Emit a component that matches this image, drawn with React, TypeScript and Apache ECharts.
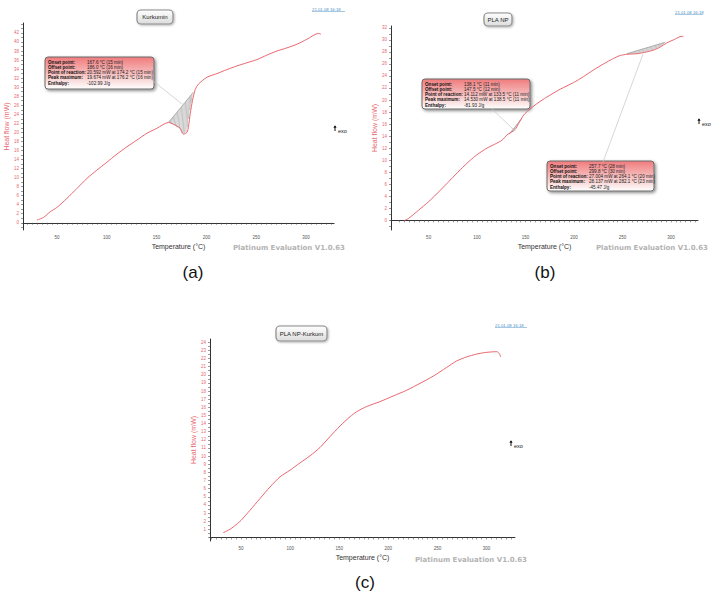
import React, { useEffect, useRef } from "react";
import * as echarts from "echarts";

// ---- data ----
const tempA = [29.9, 36.6, 43.3, 50, 60, 70.1, 80.1, 90.1, 99.5, 110.2, 120.2, 130.3, 140.3, 150.3, 162, 167, 173.7, 177, 180.5, 182.1, 183.8, 186.1, 188.8, 192.1, 200.5, 210.5, 220.6, 230.6, 240.6, 250.7, 260.7, 270.7, 280.8, 290.8, 300.8, 312.5, 314.9];
const heatA = [0.59, 1.18, 2.43, 3.39, 5.38, 7.6, 9.8, 11.65, 13.27, 15.19, 16.8, 18.3, 19.8, 20.9, 22.2, 21.8, 20.9, 19.6, 20.0, 21.4, 24.2, 27.1, 29.5, 30.7, 32.2, 33.0, 33.9, 34.7, 35.4, 36.1, 37.1, 38.0, 38.7, 39.5, 40.6, 41.9, 41.7];

const tempB = [25.3, 29.4, 39.7, 50, 62, 72.3, 82.6, 93, 99.8, 110.1, 118.7, 125.6, 130.8, 135.9, 139.3, 142.8, 148, 153.1, 161.7, 172, 185.7, 199.5, 209.8, 220.1, 230.4, 240.7, 247.6, 254.5, 264.8, 275.1, 282, 288.8, 295.7, 302.6, 311.2, 312.9];
const heatB = [0, 0.33, 1.7, 3.1, 5.0, 6.7, 8.4, 10.0, 10.9, 12.0, 12.7, 13.3, 14.2, 14.7, 15.1, 16.1, 17.5, 18.3, 19.4, 20.5, 21.8, 22.9, 23.9, 25.0, 26.0, 26.9, 27.4, 27.6, 27.7, 28.0, 28.3, 28.8, 29.5, 30.0, 30.6, 30.5];

const tempC = [32, 37.1, 42.2, 50, 59.2, 69.3, 79.5, 89.7, 99.9, 110.1, 120.3, 130.4, 140.6, 150.8, 161, 167.8, 178, 191.5, 205.1, 218.7, 232.3, 245.9, 259.4, 269.6, 279.8, 290, 300.2, 310.4, 313.1, 314.4];
const heatC = [0.6, 0.88, 1.29, 2.1, 3.35, 4.78, 6.2, 7.45, 8.27, 9.17, 10.04, 11.06, 12.4, 13.7, 14.84, 15.46, 16.1, 16.7, 17.4, 18.1, 18.95, 19.85, 20.9, 21.7, 22.2, 22.55, 22.76, 22.84, 22.6, 22.2];

// integration baselines: [onsetT, onsetH, offsetT, offsetH]
const peakA = [162, 22.2, 187, 28.9];
const peakB1 = [133, 14.3, 146, 16.9];
const peakB2 = [254.5, 27.7, 294, 29.6];

const xTickLabels = [50, 100, 150, 200, 250, 300];
const yLabelsA = [0, 2, 4, 6, 8, 10, 12, 14, 16, 18, 20, 22, 24, 26, 28, 30, 32, 34, 36, 38, 40, 42];
const yLabelsB = [0, 2, 4, 6, 8, 10, 12, 14, 16, 18, 20, 22, 24, 26, 28, 30, 32];
const yLabelsC = [1, 2, 3, 4, 5, 6, 7, 8, 9, 10, 11, 12, 13, 14, 15, 16, 17, 18, 19, 20, 21, 22, 23, 24];

const calloutLabels = ["Onset point:", "Offset point:", "Point of reaction:", "Peak maximum:", "Enthalpy:"];
const calloutA = ["167.6 °C (15 min)", "186.0 °C (16 min)", "20.592 mW at 174.2 °C (15 min)", "19.674 mW at 176.2 °C (16 min)", "-102.99 J/g"];
const calloutB1 = ["138.1 °C (11 min)", "147.5 °C (12 min)", "14.112 mW at 133.5 °C (11 min)", "14.530 mW at 138.5 °C (11 min)", "-81.93 J/g"];
const calloutB2 = ["257.7 °C (28 min)", "299.8 °C (30 min)", "27.004 mW at 264.1 °C (20 min)", "28.137 mW at 282.1 °C (23 min)", "-45.47 J/g"];

const RED = "#e8666e";
const FONT = "'Liberation Sans', Arial, sans-serif";
const VFONT = "'DejaVu Sans', Verdana, sans-serif";

function range(a: number, b: number, s: number) {
  const r: number[] = [];
  for (let v = a; v <= b + 1e-9; v += s) r.push(Math.round(v * 100) / 100);
  return r;
}

function interp(xs: number[], ys: number[], x: number) {
  for (let i = 0; i < xs.length - 1; i++) {
    if (x >= xs[i] && x <= xs[i + 1]) {
      const t = (x - xs[i]) / (xs[i + 1] - xs[i]);
      return ys[i] + t * (ys[i + 1] - ys[i]);
    }
  }
  return ys[ys.length - 1];
}

function axes(idx: number, xr: number[], yr: number[], yLabels: number[], yStep: number) {
  const x = {
    type: "value",
    gridIndex: idx,
    min: xr[0],
    max: xr[1],
    name: "Temperature (°C)",
    nameLocation: "middle",
    nameGap: 13,
    nameTextStyle: { fontSize: 7, color: "#333", fontFamily: FONT },
    axisLine: { show: true, lineStyle: { color: "#333", width: 1 } },
    axisTick: { show: true, customValues: range(20, 325, 5), length: 2, lineStyle: { color: "#555", width: 0.6 } },
    axisLabel: { customValues: xTickLabels, fontSize: 4.5, color: "#555", margin: 5, fontFamily: FONT },
    splitLine: { show: false },
  };
  const y = {
    type: "value",
    gridIndex: idx,
    min: yr[0],
    max: yr[1],
    name: "Heat flow (mW)",
    nameLocation: "middle",
    nameGap: 13,
    nameTextStyle: { fontSize: 7, color: RED, fontFamily: FONT },
    axisLine: { show: true, lineStyle: { color: "#333", width: 1 } },
    axisTick: { show: true, customValues: range(Math.ceil(yr[0] / yStep) * yStep, yr[1], yStep), length: 2, lineStyle: { color: "#555", width: 0.6 } },
    axisLabel: { customValues: yLabels, fontSize: 4.5, color: RED, margin: 4, fontFamily: FONT },
    splitLine: { show: false },
  };
  return { x, y };
}

function curve(idx: number, xs: number[], ys: number[]) {
  return {
    type: "line",
    xAxisIndex: idx,
    yAxisIndex: idx,
    data: xs.map((t, i) => [t, ys[i]]),
    showSymbol: false,
    smooth: 0.25,
    lineStyle: { color: RED, width: 1 },
    z: 3,
  };
}

function hatch(idx: number, peak: number[], xs: number[], ys: number[]) {
  return {
    type: "custom",
    xAxisIndex: idx,
    yAxisIndex: idx,
    data: [peak],
    z: 2,
    renderItem: (params: any, api: any) => {
      const t0 = api.value(0), h0 = api.value(1), t1 = api.value(2), h1 = api.value(3);
      const children: any[] = [];
      const p0 = api.coord([t0, h0]);
      const p1 = api.coord([t1, h1]);
      children.push({ type: "line", shape: { x1: p0[0], y1: p0[1], x2: p1[0], y2: p1[1] }, style: { stroke: "#888", lineWidth: 0.6 } });
      const n = Math.max(4, Math.round((p1[0] - p0[0]) / 1.3));
      for (let k = 1; k < n; k++) {
        const t = t0 + ((t1 - t0) * k) / n;
        const hb = h0 + ((h1 - h0) * k) / n;
        const hc = interp(xs, ys, t);
        const a = api.coord([t, hb]);
        const b = api.coord([t, hc]);
        children.push({ type: "line", shape: { x1: a[0], y1: a[1], x2: b[0] - 1, y2: b[1] }, style: { stroke: "#8a8a8a", lineWidth: 0.5 } });
      }
      return { type: "group", children };
    },
  };
}

function titleBox(x: number, y: number, w: number, h: number, text: string) {
  return {
    type: "group",
    children: [
      {
        type: "rect",
        shape: { x, y, width: w, height: h, r: 4 },
        style: {
          fill: new echarts.graphic.LinearGradient(0, 0, 0, 1, [
            { offset: 0, color: "#ffffff" },
            { offset: 1, color: "#dcdcdc" },
          ]),
          stroke: "#8c8c8c",
          lineWidth: 1.2,
          shadowBlur: 2,
          shadowOffsetX: 1,
          shadowOffsetY: 1,
          shadowColor: "rgba(0,0,0,0.3)",
        },
      },
      {
        type: "text",
        style: { text, x: x + w / 2, y: y + h / 2, align: "center", verticalAlign: "middle", fontSize: 6, fill: "#222", fontFamily: FONT },
      },
    ],
  };
}

function callout(x: number, y: number, w: number, h: number, values: string[]) {
  const children: any[] = [
    {
      type: "rect",
      shape: { x, y, width: w, height: h, r: 3 },
      style: {
        fill: new echarts.graphic.LinearGradient(0, 0, 0, 1, [
          { offset: 0, color: "#f07b7d" },
          { offset: 0.55, color: "#f6c2c2" },
          { offset: 1, color: "#ffffff" },
        ]),
        stroke: "#6a6a6a",
        lineWidth: 1,
        shadowBlur: 3,
        shadowOffsetX: 1.5,
        shadowOffsetY: 1.5,
        shadowColor: "rgba(0,0,0,0.45)",
      },
    },
  ];
  calloutLabels.forEach((lab, i) => {
    const ty = y + 5 + i * 5.3;
    children.push({ type: "text", style: { text: lab, x: x + 3, y: ty, verticalAlign: "middle", fontSize: 4.6, fontWeight: "bold", fill: "#111", fontFamily: FONT } });
    children.push({ type: "text", style: { text: values[i], x: x + 42, y: ty, verticalAlign: "middle", fontSize: 4.6, fill: "#222", fontFamily: FONT } });
  });
  return { type: "group", children };
}

function exo(x: number, y: number) {
  return {
    type: "group",
    children: [
      { type: "line", shape: { x1: x, y1: y, x2: x, y2: y + 5 }, style: { stroke: "#111", lineWidth: 1 } },
      { type: "polygon", shape: { points: [[x - 1.6, y + 1.8], [x + 1.6, y + 1.8], [x, y - 0.8]] }, style: { fill: "#111" } },
      { type: "text", style: { text: "exo", x: x + 3, y: y + 5, verticalAlign: "middle", fontSize: 5.5, fill: "#111", fontFamily: FONT } },
    ],
  };
}

function stamp(x: number, y: number, w: number) {
  return {
    type: "group",
    children: [
      { type: "text", style: { text: "21.01.08 16:18", x, y, verticalAlign: "middle", fontSize: 4.3, fill: "#4a90c8", fontFamily: FONT, width: w } },
      { type: "line", shape: { x1: x, y1: y + 2.5, x2: x + w, y2: y + 2.5 }, style: { stroke: "#4a90c8", lineWidth: 0.5 } },
    ],
  };
}

function platinum(xRight: number, y: number) {
  return {
    type: "text",
    style: { text: "Platinum Evaluation V1.0.63", x: xRight, y, align: "right", verticalAlign: "middle", fontSize: 7, fontWeight: "bold", fill: "#b3b3b3", fontFamily: VFONT },
  };
}

function leader(x1: number, y1: number, x2: number, y2: number) {
  return { type: "line", shape: { x1, y1, x2, y2 }, style: { stroke: "#c4c4c4", lineWidth: 0.7 }, z: 5 };
}

function panelLetter(text: string, x: number, y: number) {
  return { type: "text", style: { text, x, y, align: "center", verticalAlign: "middle", fontSize: 17, fill: "#111", fontFamily: FONT } };
}

export default function App() {
  const ref = useRef<HTMLDivElement>(null);
  useEffect(() => {
    if (!ref.current) return;
    const chart = echarts.init(ref.current, null, { renderer: "svg" });
    const a = axes(0, [16, 328], [-1.6, 44.2], yLabelsA, 1);
    const b = axes(1, [11.2, 327.8], [-1.6, 32.3], yLabelsB, 1);
    const c = axes(2, [18.4, 329], [-0.44, 24.4], yLabelsC, 0.5);
    chart.setOption({
      animation: false,
      backgroundColor: "#ffffff",
      grid: [
        { left: 23, top: 23, width: 311, height: 207 },
        { left: 391, top: 26, width: 307, height: 204 },
        { left: 210, top: 339, width: 305, height: 202 },
      ],
      xAxis: [a.x, b.x, c.x],
      yAxis: [a.y, b.y, c.y],
      series: [
        hatch(0, peakA, tempA, heatA),
        hatch(1, peakB1, tempB, heatB),
        hatch(1, peakB2, tempB, heatB),
        curve(0, tempA, heatA),
        curve(1, tempB, heatB),
        curve(2, tempC, heatC),
      ],
      graphic: [
        leader(152, 80, 182, 104),
        leader(491, 108, 515, 131),
        leader(603, 162, 643, 54),
        titleBox(137, 10, 36, 14, "Kurkumin"),
        titleBox(484, 13, 28, 13, "PLA NP"),
        titleBox(276, 326, 51, 15, "PLA NP-Kurkum"),
        callout(45, 57, 109, 32, calloutA),
        callout(422, 79, 108, 30, calloutB1),
        callout(547, 161, 107, 30, calloutB2),
        exo(335, 126),
        exo(699, 119),
        exo(511, 441),
        stamp(312, 9, 33),
        stamp(675, 12, 28),
        stamp(495, 325, 32),
        platinum(345, 248),
        platinum(708, 248),
        platinum(527, 560),
        panelLetter("(a)", 193, 272),
        panelLetter("(b)", 545, 272),
        panelLetter("(c)", 365, 582),
      ],
    });
    return () => chart.dispose();
  }, []);
  return (
    <div
      ref={ref}
      style={{ position: "absolute", left: 0, top: 0, width: 713, height: 597, background: "#fff" }}
    />
  );
}
